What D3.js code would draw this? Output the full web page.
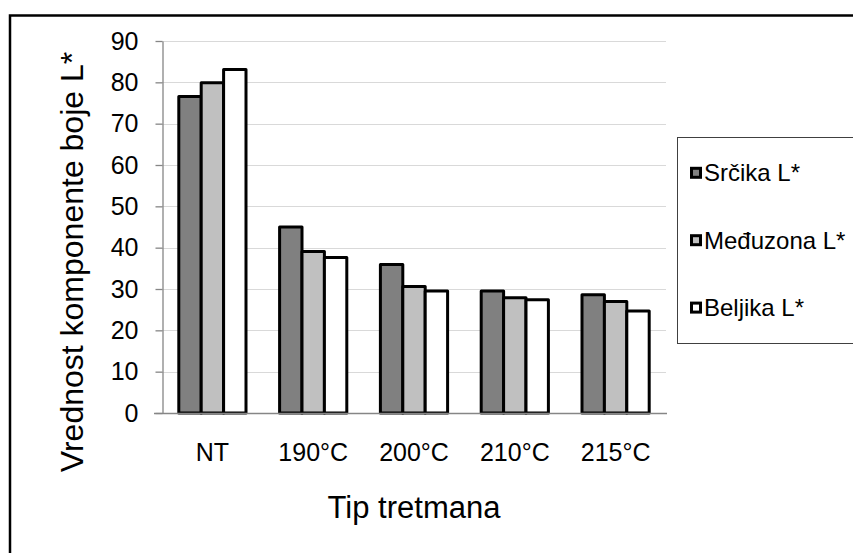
<!DOCTYPE html>
<html>
<head>
<meta charset="utf-8">
<script src="https://cdn.jsdelivr.net/npm/d3@7"></script>
<style>
  html, body { margin: 0; padding: 0; background: #fff; }
  svg { display: block; font-family: "Liberation Sans", Arial, sans-serif; }
</style>
</head>
<body>
<svg id="chart" width="853" height="553"></svg>
<script>
const categories = ["NT", "190°C", "200°C", "210°C", "215°C"];
const seriesNames = ["Srčika L*", "Međuzona L*", "Beljika L*"];
const srcikaValues = [76.6, 45.0, 35.9, 29.5, 28.6];
const medjuzonaValues = [79.9, 39.1, 30.6, 27.9, 27.0];
const beljikaValues = [83.1, 37.6, 29.5, 27.4, 24.7];
const seriesColors = ["#808080", "#c0c0c0", "#ffffff"];
const yTicks = [0, 10, 20, 30, 40, 50, 60, 70, 80, 90];
const yTitle = "Vrednost komponente boje L*";
const xTitle = "Tip tretmana";

(function () {
const seriesValues = [srcikaValues, medjuzonaValues, beljikaValues];

const svg = d3.select("#chart");

// outer frame
svg.append("rect")
  .attr("x", 10).attr("y", 15.5)
  .attr("width", 880).attr("height", 580)
  .attr("fill", "#fff").attr("stroke", "#000").attr("stroke-width", 2.5);

const pLeft = 162, pRight = 666, pTop = 41, pBottom = 413;

const y = d3.scaleLinear().domain([0, 90]).range([pBottom, pTop]);
const x0 = d3.scaleBand().domain(categories).range([pLeft, pRight])
  .paddingInner(1/3).paddingOuter(1/6);
const x1 = d3.scaleBand().domain(seriesNames).range([0, x0.bandwidth()]).padding(0);

// gridlines
svg.append("g").selectAll("line")
  .data(yTicks.filter(d => d > 0))
  .join("line")
  .attr("x1", pLeft).attr("x2", pRight)
  .attr("y1", d => Math.round(y(d)) + 0.5).attr("y2", d => Math.round(y(d)) + 0.5)
  .attr("stroke", "#d9d9d9").attr("stroke-width", 1);

// y axis
const yAxis = svg.append("g")
  .attr("transform", `translate(${pLeft + 0.5},0)`)
  .call(d3.axisLeft(y).tickValues(yTicks).tickSize(7).tickSizeOuter(0).tickPadding(17));
yAxis.select(".domain").attr("stroke", "#868686").attr("stroke-width", 1.3);
yAxis.selectAll(".tick line").attr("stroke", "#868686").attr("stroke-width", 1.3);
yAxis.selectAll(".tick text")
  .attr("font-size", 25).attr("fill", "#000")
  .attr("font-family", "'Liberation Sans', Arial, sans-serif");

// bars
const groups = svg.append("g").selectAll("g")
  .data(categories)
  .join("g")
  .attr("transform", d => `translate(${x0(d)},0)`);

groups.selectAll("rect")
  .data((c, i) => seriesNames.map((s, j) => ({ s, j, v: seriesValues[j][i] })))
  .join("rect")
  .attr("x", d => x1(d.s))
  .attr("y", d => y(d.v))
  .attr("width", x1.bandwidth())
  .attr("height", d => pBottom - y(d.v))
  .attr("fill", d => seriesColors[d.j])
  .attr("stroke", "#000")
  .attr("stroke-width", 3)
  .attr("stroke-linejoin", "round");

// x axis
const xAxis = svg.append("g")
  .attr("transform", `translate(0,${pBottom})`)
  .call(d3.axisBottom(x0).tickSize(0).tickPadding(30));
xAxis.select(".domain").remove();
xAxis.selectAll(".tick text")
  .attr("font-size", 25).attr("fill", "#000")
  .attr("font-family", "'Liberation Sans', Arial, sans-serif");
svg.append("line")
  .attr("x1", 154).attr("x2", pRight + 1)
  .attr("y1", pBottom + 0.5).attr("y2", pBottom + 0.5)
  .attr("stroke", "#868686").attr("stroke-width", 1.3);

// axis titles
svg.append("text")
  .attr("transform", "rotate(-90)")
  .attr("x", -262).attr("y", 83)
  .attr("text-anchor", "middle")
  .attr("font-size", 32)
  .text(yTitle);

svg.append("text")
  .attr("x", 414).attr("y", 518)
  .attr("text-anchor", "middle")
  .attr("font-size", 31)
  .text(xTitle);

// legend
svg.append("rect")
  .attr("x", 677.5).attr("y", 137.5)
  .attr("width", 220).attr("height", 206)
  .attr("fill", "#fff").attr("stroke", "#404040").attr("stroke-width", 1);

const legendY = [172.8, 240.2, 307.6];
const legend = svg.append("g").selectAll("g")
  .data(seriesNames)
  .join("g")
  .attr("transform", (d, i) => `translate(0,${legendY[i]})`);
legend.append("rect")
  .attr("x", 691.5).attr("y", -4.5)
  .attr("width", 9).attr("height", 9)
  .attr("fill", (d, i) => seriesColors[i])
  .attr("stroke", "#000").attr("stroke-width", 3);
legend.append("text")
  .attr("x", 704).attr("y", 0)
  .attr("dy", "0.35em")
  .attr("font-size", 24)
  .text(d => d);
})();
</script>
</body>
</html>
